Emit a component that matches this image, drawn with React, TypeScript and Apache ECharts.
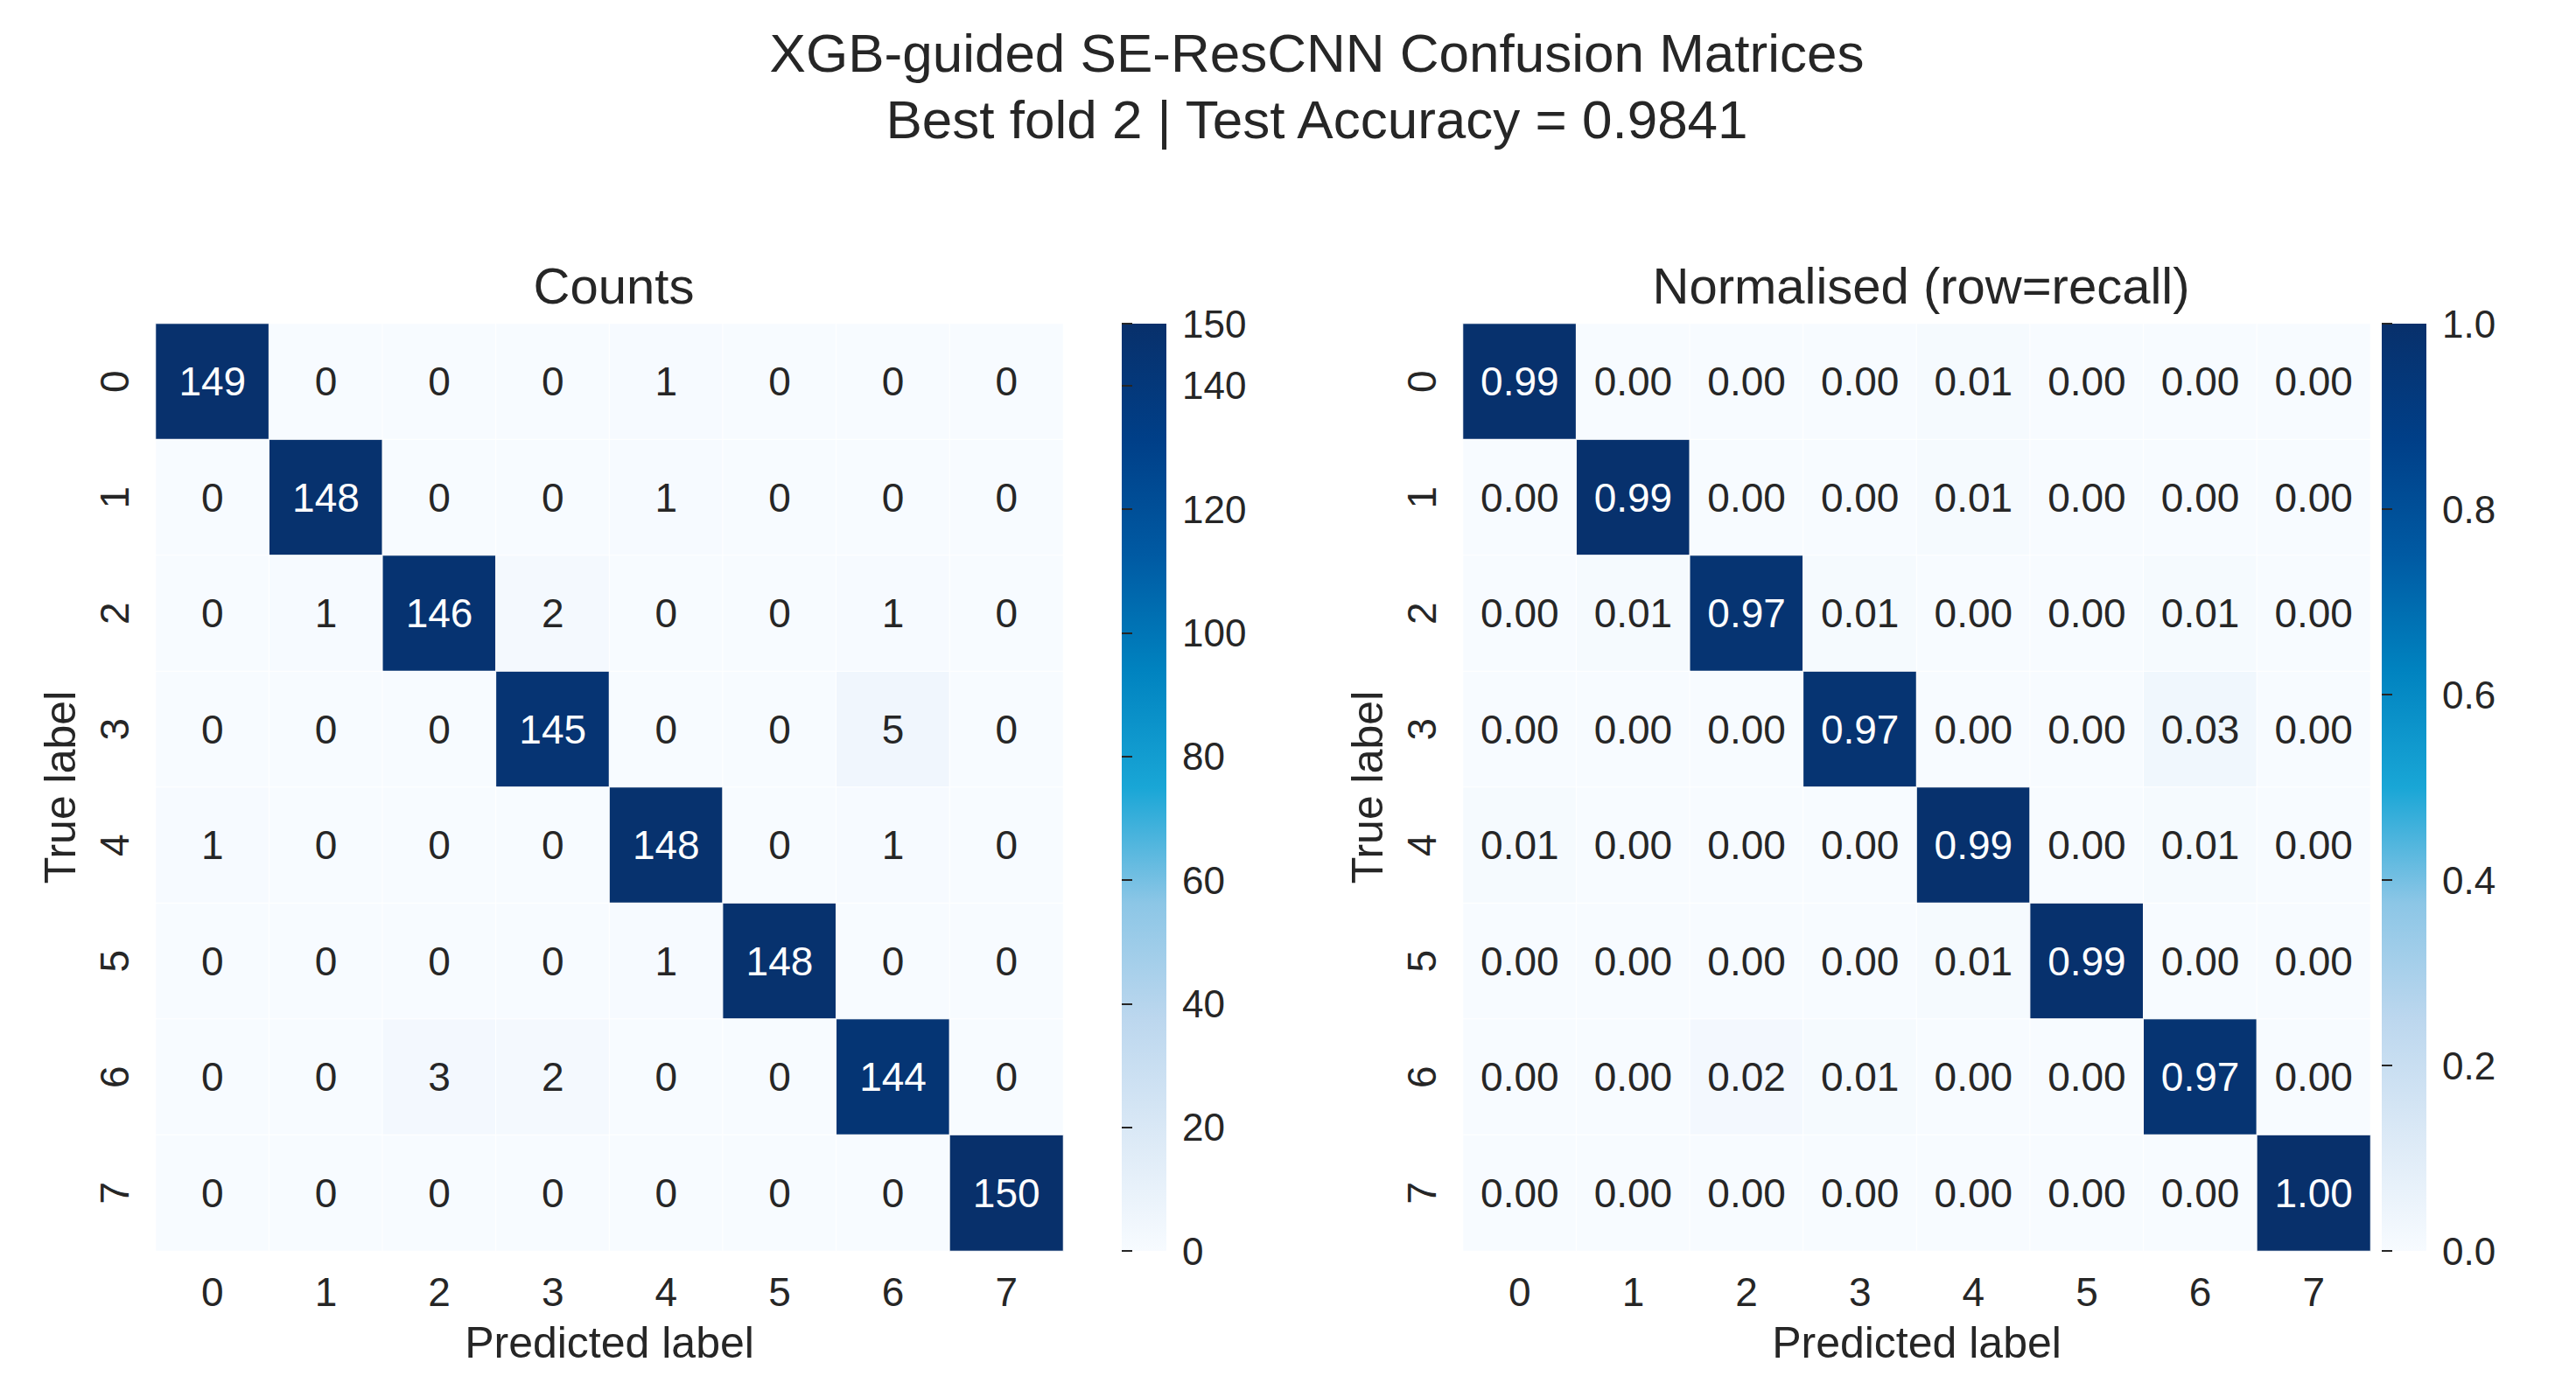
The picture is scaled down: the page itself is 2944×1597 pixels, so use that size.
import * as echarts from "echarts";
import { useEffect, useRef } from "react";

const labels = ["0", "1", "2", "3", "4", "5", "6", "7"];

const counts: number[][] = [
  [149, 0, 0, 0, 1, 0, 0, 0],
  [0, 148, 0, 0, 1, 0, 0, 0],
  [0, 1, 146, 2, 0, 0, 1, 0],
  [0, 0, 0, 145, 0, 0, 5, 0],
  [1, 0, 0, 0, 148, 0, 1, 0],
  [0, 0, 0, 0, 1, 148, 0, 0],
  [0, 0, 3, 2, 0, 0, 144, 0],
  [0, 0, 0, 0, 0, 0, 0, 150],
];

const normalised: number[][] = [
  [0.99, 0.0, 0.0, 0.0, 0.01, 0.0, 0.0, 0.0],
  [0.0, 0.99, 0.0, 0.0, 0.01, 0.0, 0.0, 0.0],
  [0.0, 0.01, 0.97, 0.01, 0.0, 0.0, 0.01, 0.0],
  [0.0, 0.0, 0.0, 0.97, 0.0, 0.0, 0.03, 0.0],
  [0.01, 0.0, 0.0, 0.0, 0.99, 0.0, 0.01, 0.0],
  [0.0, 0.0, 0.0, 0.0, 0.01, 0.99, 0.0, 0.0],
  [0.0, 0.0, 0.02, 0.01, 0.0, 0.0, 0.97, 0.0],
  [0.0, 0.0, 0.0, 0.0, 0.0, 0.0, 0.0, 1.0],
];

const palette = [
  "#f7fbff", "#dbe9f6", "#bcd7ee", "#8cc6e6", "#19a6d6",
  "#0083c0", "#005aa3", "#003f88", "#08306b",
];

const FONT = "Liberation Sans";

function cells(m: number[][], max: number, digits: number) {
  const out: any[] = [];
  m.forEach((row, r) =>
    row.forEach((v, c) =>
      out.push({
        value: [c, r, v],
        label: { color: v > max * 0.5 ? "#ffffff" : "#262626", formatter: v.toFixed(digits) },
      }),
    ),
  );
  return out;
}

export default function App() {
  const ref = useRef<HTMLDivElement | null>(null);

  useEffect(() => {
    document.body.style.margin = "0";
    if (!ref.current) return;
    const chart = echarts.init(ref.current, undefined, { renderer: "svg" });

    const heatLefts = [178, 1672];
    const barLefts = [1282, 2722];
    const top = 370;
    const h = 1060;
    const w = 1037;

    const gradient = () =>
      new echarts.graphic.LinearGradient(
        0, 1, 0, 0,
        palette.map((c, i) => ({ offset: i / (palette.length - 1), color: c })),
      );

    const catX = (gi: number) => ({
      type: "category" as const,
      gridIndex: gi,
      data: labels,
      axisLine: { show: false },
      axisTick: { show: false },
      splitLine: { show: false },
      axisLabel: { fontSize: 46, color: "#262626", fontFamily: FONT, margin: 24 },
      name: "Predicted label",
      nameLocation: "middle" as const,
      nameGap: 80,
      nameTextStyle: { fontSize: 50, color: "#262626", fontFamily: FONT },
    });
    const catY = (gi: number) => ({
      type: "category" as const,
      gridIndex: gi,
      data: labels,
      inverse: true,
      axisLine: { show: false },
      axisTick: { show: false },
      splitLine: { show: false },
      axisLabel: { fontSize: 46, color: "#262626", fontFamily: FONT, rotate: 90, margin: 24 },
      name: "True label",
      nameLocation: "middle" as const,
      nameGap: 84,
      nameTextStyle: { fontSize: 50, color: "#262626", fontFamily: FONT },
    });
    const barX = (gi: number) => ({
      type: "value" as const,
      gridIndex: gi,
      show: false,
    });
    const barY = (gi: number, max: number, interval: number, digits: number) => ({
      type: "value" as const,
      gridIndex: gi,
      position: "right" as const,
      min: 0,
      max,
      interval,
      axisLine: { show: false },
      axisTick: { show: true, length: 12, lineStyle: { color: "#262626", width: 2 } },
      splitLine: { show: false },
      axisLabel: {
        fontSize: 44,
        color: "#262626",
        fontFamily: FONT,
        margin: 18,
        formatter: (v: number) => v.toFixed(digits),
      },
    });

    chart.setOption({
      animation: false,
      backgroundColor: "#ffffff",
      title: [
        {
          text: "XGB-guided SE-ResCNN Confusion Matrices",
          left: 1500,
          top: 24,
          textAlign: "center",
          textStyle: { fontSize: 62, fontWeight: "normal", color: "#262626", fontFamily: FONT },
        },
        {
          text: "Best fold 2 | Test Accuracy = 0.9841",
          left: 1500,
          top: 100,
          textAlign: "center",
          textStyle: { fontSize: 62, fontWeight: "normal", color: "#262626", fontFamily: FONT },
        },
        {
          text: "Counts",
          left: heatLefts[0] + w / 2,
          top: 292,
          textAlign: "center",
          textStyle: { fontSize: 58, fontWeight: "normal", color: "#262626", fontFamily: FONT },
        },
        {
          text: "Normalised (row=recall)",
          left: heatLefts[1] + w / 2,
          top: 292,
          textAlign: "center",
          textStyle: { fontSize: 58, fontWeight: "normal", color: "#262626", fontFamily: FONT },
        },
      ],
      grid: [
        { left: heatLefts[0], top, width: w, height: h },
        { left: heatLefts[1], top, width: w, height: h },
        { left: barLefts[0], top, width: 51, height: h },
        { left: barLefts[1], top, width: 51, height: h },
      ],
      xAxis: [catX(0), catX(1), barX(2), barX(3)],
      yAxis: [catY(0), catY(1), barY(2, 150, 20, 0), barY(3, 1, 0.2, 1)],
      visualMap: [
        { show: false, seriesIndex: 0, min: 0, max: 150, dimension: 2, inRange: { color: palette } },
        { show: false, seriesIndex: 1, min: 0, max: 1, dimension: 2, inRange: { color: palette } },
      ],
      graphic: barLefts.map((x) => ({
        type: "rect",
        shape: { x, y: top, width: 51, height: h },
        style: { fill: gradient() },
        silent: true,
      })),
      series: [
        {
          type: "heatmap",
          xAxisIndex: 0,
          yAxisIndex: 0,
          data: cells(counts, 150, 0),
          label: { show: true, fontSize: 46, fontFamily: FONT },
          itemStyle: { borderColor: "#ffffff", borderWidth: 1 },
        },
        {
          type: "heatmap",
          xAxisIndex: 1,
          yAxisIndex: 1,
          data: cells(normalised, 1, 2),
          label: { show: true, fontSize: 46, fontFamily: FONT },
          itemStyle: { borderColor: "#ffffff", borderWidth: 1 },
        },
      ],
    });

    return () => chart.dispose();
  }, []);

  return <div ref={ref} style={{ width: 2944, height: 1597 }} />;
}
